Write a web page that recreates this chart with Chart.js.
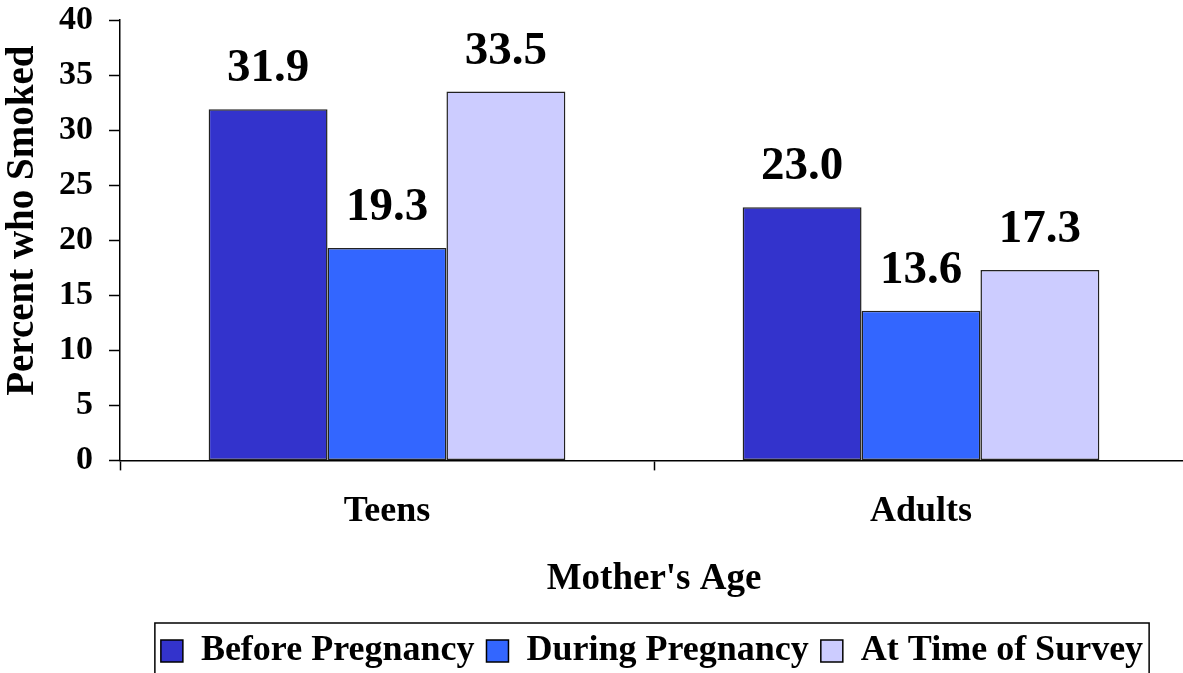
<!DOCTYPE html>
<html>
<head>
<meta charset="utf-8">
<script src="https://cdn.jsdelivr.net/npm/chart.js@4.4.1/dist/chart.umd.min.js"></script>
<style>
  html, body { margin: 0; padding: 0; background: #fff; overflow: hidden; }
  #wrap { width: 1190px; height: 679px; }
</style>
</head>
<body>
<div id="wrap"><canvas id="myChart"></canvas></div>
<script>
const categories = ["Teens", "Adults"];
const before_pregnancy = [31.9, 23.0];
const during_pregnancy = [19.3, 13.6];
const at_survey = [33.5, 17.3];
const series_names = ["Before Pregnancy", "During Pregnancy", "At Time of Survey"];
const y_ticks = [0, 5, 10, 15, 20, 25, 30, 35, 40];

const serif = "'Liberation Serif', 'Times New Roman', serif";

// draws the numbers above each bar
const valueLabels = {
  id: "valueLabels",
  afterDatasetsDraw(chart) {
    const ctx = chart.ctx;
    ctx.save();
    ctx.font = "bold 47px " + serif;
    ctx.fillStyle = "#000";
    ctx.textAlign = "center";
    ctx.textBaseline = "alphabetic";
    chart.data.datasets.forEach(function (ds, i) {
      const meta = chart.getDatasetMeta(i);
      meta.data.forEach(function (bar, j) {
        ctx.fillText(ds.data[j].toFixed(1), bar.x, bar.y - 28);
      });
    });
    ctx.restore();
  }
};

// legend sits a bit right of centre in the original
const legendShift = {
  id: "legendShift",
  afterLayout(chart) {
    const lg = chart.legend;
    lg.left += 58;
    lg.right += 58;
  }
};

// box round the legend
const legendFrame = {
  id: "legendFrame",
  afterDraw(chart) {
    const lg = chart.legend;
    const w = lg.lineWidths[0];
    const mid = (lg.left + lg.right) / 2;
    const left = mid - w / 2;
    const right = mid + w / 2;
    const ctx = chart.ctx;
    ctx.save();
    ctx.strokeStyle = "#000";
    ctx.lineWidth = 1.5;
    ctx.strokeRect(left, lg.top + 2, right - left, 80);
    ctx.restore();
  }
};

const ctx = document.getElementById("myChart").getContext("2d");
const myChart = new Chart(ctx, {
  type: "bar",
  data: {
    labels: categories,
    datasets: [
      { label: series_names[0], data: before_pregnancy, backgroundColor: "#3333CC" },
      { label: series_names[1], data: during_pregnancy, backgroundColor: "#3366FF" },
      { label: series_names[2], data: at_survey, backgroundColor: "#CCCCFF" }
    ]
  },
  options: {
    responsive: true,
    maintainAspectRatio: false,
    animation: false,
    datasets: {
      bar: {
        borderColor: "#222",
        borderWidth: 1.5,
        borderSkipped: false,
        categoryPercentage: 0.668,
        barPercentage: 1.0
      }
    },
    layout: { padding: { top: 20, right: 2, left: 0, bottom: 0 } },
    plugins: {
      tooltip: { enabled: false },
      legend: {
        position: "bottom",
        labels: {
          color: "#000",
          font: { family: serif, size: 36, weight: "bold" },
          boxWidth: 22,
          boxHeight: 22,
          padding: 12,
          generateLabels(chart) {
            return chart.data.datasets.map(function (ds, i) {
              return {
                text: ds.label,
                fillStyle: ds.backgroundColor,
                strokeStyle: "#000",
                lineWidth: 1.5,
                datasetIndex: i
              };
            });
          }
        }
      }
    },
    scales: {
      x: {
        grid: {
          offset: true,
          drawOnChartArea: false,
          color: "#000",
          tickLength: 10,
          tickWidth: 1.5
        },
        border: { color: "#000", width: 1.5 },
        ticks: {
          color: "#000",
          padding: 20,
          font: { family: serif, size: 36, weight: "bold" }
        },
        title: {
          display: true,
          text: "Mother's Age",
          color: "#000",
          padding: { top: 4, bottom: 19 },
          font: { family: serif, size: 37, weight: "bold" }
        }
      },
      y: {
        min: 0,
        max: 40,
        afterBuildTicks(scale) {
          scale.ticks = y_ticks.map(function (v) { return { value: v }; });
        },
        afterFit(scale) {
          scale.width = 120;
          scale.paddingTop = 0;
          scale.paddingBottom = 0;
        },
        grid: {
          drawOnChartArea: false,
          color: "#000",
          tickLength: 11,
          tickWidth: 1.5
        },
        border: { color: "#000", width: 1.5 },
        ticks: {
          color: "#000",
          padding: 16,
          font: { family: serif, size: 34, weight: "bold" }
        },
        title: {
          display: true,
          text: "    Percent who Smoked",
          color: "#000",
          padding: 0,
          font: { family: serif, size: 39, weight: "bold" }
        }
      }
    }
  },
  plugins: [valueLabels, legendShift, legendFrame]
});
</script>
</body>
</html>
